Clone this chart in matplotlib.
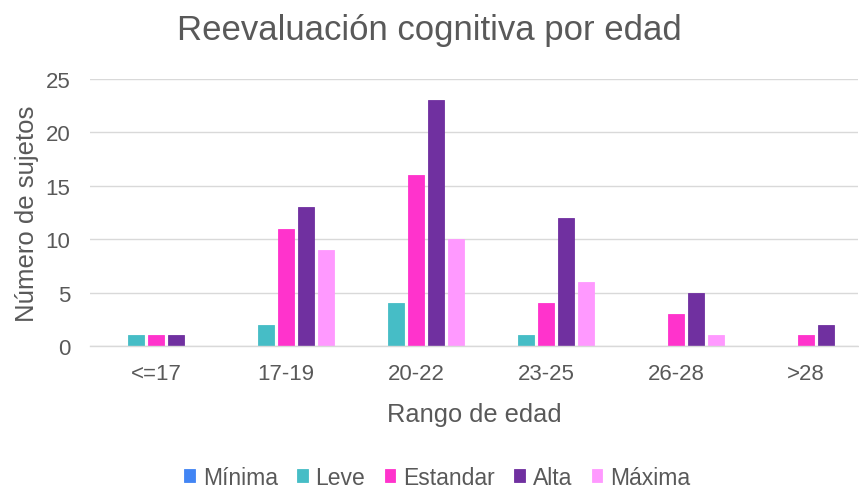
import matplotlib
matplotlib.use("Agg")
import matplotlib.pyplot as plt
import numpy as np

categories = ["<=17", "17-19", "20-22", "23-25", "26-28", ">28"]
series_names = ["Mínima", "Leve", "Estandar", "Alta", "Máxima"]
minima = [0, 0, 0, 0, 0, 0]
leve = [1, 2, 4, 1, 0, 0]
estandar = [1, 11, 16, 4, 3, 1]
alta = [1, 13, 23, 12, 5, 2]
maxima = [0, 9, 10, 6, 1, 0]
colors = ["#4285F4", "#46BDC6", "#FF33CC", "#7030A0", "#FF99FF"]

plt.rcParams['font.family'] = ['Liberation Sans', 'DejaVu Sans']
fig = plt.figure(figsize=(8.59, 4.89), dpi=100)
ax = fig.add_axes([90 / 859, 1 - 347 / 489, 768 / 859, 267 / 489])

data = [minima, leve, estandar, alta, maxima]
x = np.arange(len(categories))
step = 0.154
width = 0.123
for i, (name, vals, c) in enumerate(zip(series_names, data, colors)):
    ax.bar(x + (i - 2) * step, vals, width, color=c, label=name,
           edgecolor=c, linewidth=0.6)

ax.set_xlim(-0.508, 5.400)
ax.set_ylim(0, 25)
ax.set_yticks([0, 5, 10, 15, 20, 25])
ax.set_xticks(x)
ax.set_xticklabels(categories)
ax.tick_params(axis='both', length=0, labelsize=16, colors='#595959')
ax.tick_params(axis='y', pad=14)
ax.tick_params(axis='x', pad=12)
ax.grid(axis='y', color='#D9D9D9', linewidth=1)
ax.set_axisbelow(True)
for s in ['top', 'right', 'left']:
    ax.spines[s].set_visible(False)
ax.spines['bottom'].set_color('#D9D9D9')
ax.spines['bottom'].set_linewidth(1)

fig.text(0.500, 0.938, "Reevaluación cognitiva por edad", fontsize=25, color='#595959',
         ha='center', va='center')
ax.set_xlabel("Rango de edad", fontsize=18.3, color='#595959', labelpad=13)
ax.set_ylabel("Número de sujetos", fontsize=18.5, color='#595959', labelpad=5)

leg = fig.legend(loc='center', bbox_to_anchor=(0.509, 0.022), ncol=5, frameon=False,
                 fontsize=16.5, handlelength=0.45, handleheight=0.45, handletextpad=0.35,
                 columnspacing=0.85)
for t in leg.get_texts():
    t.set_color('#595959')

fig.savefig("out.png", dpi=100)
